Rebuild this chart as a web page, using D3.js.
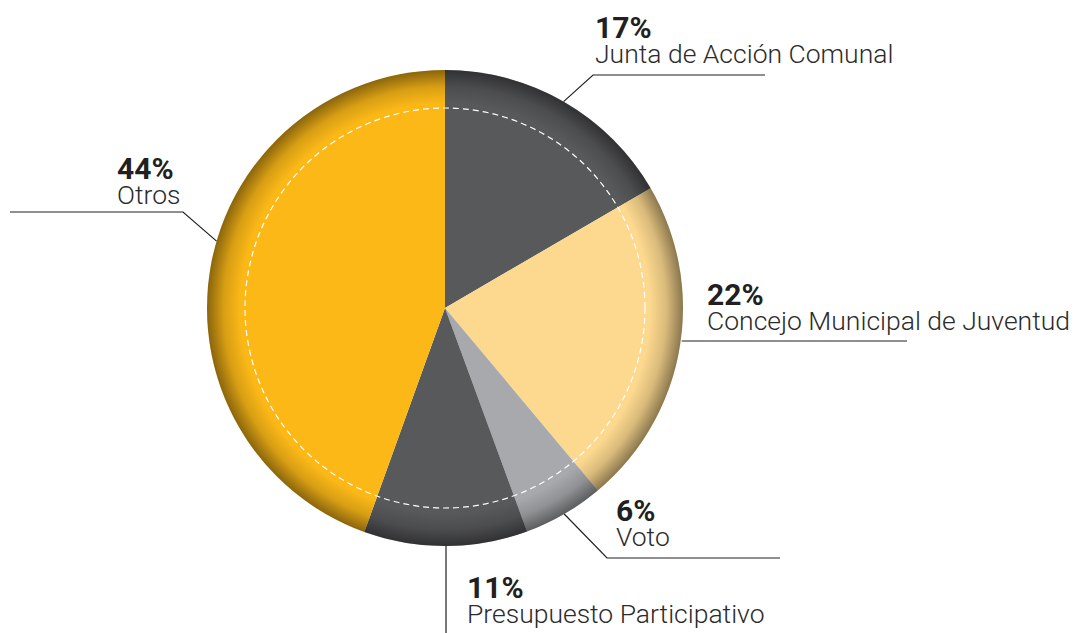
<!DOCTYPE html>
<html><head><meta charset="utf-8">
<script src="https://cdn.jsdelivr.net/npm/d3@7"></script>
<style>body{margin:0;background:#fff}svg{display:block}</style>
</head><body>
<svg id="c" width="1076" height="633"></svg>
<script>
const categories = ["Junta de Acción Comunal","Concejo Municipal de Juventud","Voto","Presupuesto Participativo","Otros"];
const values = [16.6, 22.3, 5.5, 11.1, 44.5];
const colors = ["#58595b","#fdd98f","#a7a9ac","#58595b","#fbb817"];
const pctLabels = ["17%","22%","6%","11%","44%"];
// label layout: text anchor, leader knee, leader end, and angle position along slice (fraction)
const labelLayout = [
  {tx:595, ty:38, knee:[593,75], end:[765,75], at:0.5},
  {tx:707, ty:305, knee:null, end:[907,341], at:0.45},
  {tx:616, ty:521, knee:[607,558], end:[780,558], at:0.5},
  {tx:467, ty:598, knee:null, end:[446,633], at:0.43},
  {tx:117, ty:179, knee:[183,212], end:[10,212], at:0.54}
];

const svg = d3.select("#c");
const cx = 445, cy = 308, R = 238;
const defs = svg.append("defs");
const g1 = defs.append("radialGradient").attr("id","rim").attr("gradientUnits","userSpaceOnUse")
  .attr("cx",cx).attr("cy",cy).attr("r",R);
g1.append("stop").attr("offset",0.86).attr("stop-color","#000").attr("stop-opacity",0);
g1.append("stop").attr("offset",0.93).attr("stop-color","#000").attr("stop-opacity",0.14);
g1.append("stop").attr("offset",1).attr("stop-color","#000").attr("stop-opacity",0.45);

const pie = d3.pie().sort(null).value(d=>d)(values);
const arc = d3.arc().innerRadius(0).outerRadius(R);
const g = svg.append("g").attr("transform",`translate(${cx},${cy})`);
g.selectAll("path.s").data(pie).join("path").attr("class","s")
  .attr("d",arc).attr("fill",(d,i)=>colors[i]);
svg.append("circle").attr("cx",cx).attr("cy",cy).attr("r",R).attr("fill","url(#rim)");
g.append("circle").attr("r",200).attr("fill","none").attr("stroke","#fff")
  .attr("stroke-width",1.2).attr("stroke-dasharray","6,4");

// leaders & labels
pie.forEach((d,i)=>{
  const L = labelLayout[i];
  const a = d.startAngle + (d.endAngle-d.startAngle)*L.at;
  const sx = cx + R*Math.sin(a), sy = cy - R*Math.cos(a);
  let pts;
  if (L.knee) pts = [[sx,sy],L.knee,L.end];
  else if (i===3) pts = [[L.end[0],cy+R],L.end];
  else pts = [[sx,L.end[1]],L.end];
  svg.append("path").attr("d",d3.line()(pts)).attr("fill","none")
    .attr("stroke","#231f20").attr("stroke-width",1.2);
  const t = svg.append("text").attr("x",L.tx).attr("y",L.ty).attr("font-family","Roboto");
  t.append("tspan").attr("x",L.tx).attr("font-size",30).attr("font-weight",700).attr("fill","#231f20").text(pctLabels[i]);
  t.append("tspan").attr("x",L.tx).attr("dy",25).attr("font-size",26.5).attr("font-weight",300).attr("fill","#2b2b2b").text(categories[i]);
});
</script>
</body></html>
